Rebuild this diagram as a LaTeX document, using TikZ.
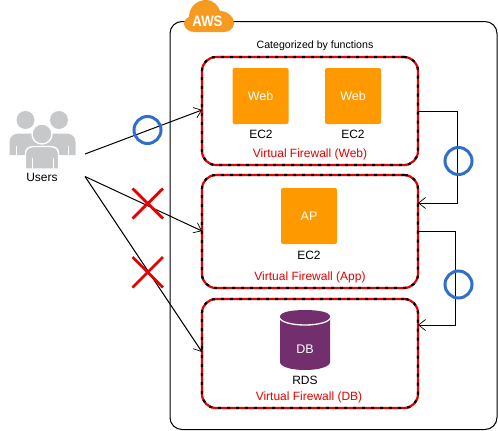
\documentclass[tikz,border=0pt]{standalone}
\usepackage{fontspec}
\setmainfont{Liberation Sans}
\usetikzlibrary{arrows.meta,calc}
\definecolor{awsorange}{HTML}{FF9900}
\definecolor{cloudorange}{HTML}{F79A20}
\definecolor{dbpurple}{HTML}{732E6E}
\definecolor{fwred}{HTML}{E60000}
\definecolor{okblue}{HTML}{2F6FCB}
\definecolor{usergray}{HTML}{C7C8CA}
\tikzset{
  x=1pt,y=-1pt,
  every node/.style={font=\fontsize{12}{14}\selectfont,inner sep=0pt,outer sep=0pt},
  fwbox/.style={minimum width=216pt,rounded corners=14pt,draw=fwred,line width=2.2pt,
    postaction={draw=black,line width=2.2pt,dash pattern=on 3pt off 6pt}},
  ec2box/.style={fill=awsorange,draw=none,rounded corners=2pt,minimum width=56pt,minimum height=56pt,
    text=white,font=\fontsize{12.5}{14}\selectfont},
  fwlabel/.style={text=fwred},
  conn/.style={draw=black,line width=1pt,-{Straight Barb[length=7pt,width=11pt,line width=0.7pt]}},
  okmark/.style={draw=okblue,line width=3pt,fill=none},
  nomark/.style={draw=fwred,line width=2.8pt},
  slit/.style={draw=white,line width=0.8pt},
}
\begin{document}
\begin{tikzpicture}
\useasboundingbox (0,0) rectangle (498,431);
\fill[white] (0,0) rectangle (498,431);
% AWS outer frame
\draw[line width=1pt,rounded corners=12pt] (170,21.5) rectangle (497,429.5);
% cloud
\fill[cloudorange] (195,32) .. controls (184,32) and (180,21) .. (189,17)
  .. controls (189,7) and (197,0) .. (206,0)
  .. controls (213,0) and (218,5) .. (220,11)
  .. controls (228,11) and (235,18) .. (234,24)
  .. controls (233,29) and (229,32) .. (224,32) -- cycle;
\node[text=white,font=\bfseries\fontsize{15}{17}\selectfont,xscale=0.88] (awslabel) at (207.5,21) {AWS};
\node[font=\fontsize{10.6}{12}\selectfont] (title) at (315,45.5) {Categorized by functions};
% firewall boxes
\node[fwbox,minimum height=108pt] (web) at (310,111) {};
\node[fwbox,minimum height=113pt] (app) at (310,231.5) {};
\node[fwbox,minimum height=109pt] (db) at (310,353.5) {};
% ec2
\node[ec2box] (web1) at (260.5,96) {Web};
\node[ec2box] (web2) at (353,96) {Web};
\node[ec2box] (ap) at (309,216) {AP};
\node (ec1) at (261,134) {EC2};
\node (ec2) at (353,134) {EC2};
\node (ec3) at (309,255) {EC2};
\node[fwlabel] (fw1) at (310,154.5) {Virtual Firewall (Web)};
\node[fwlabel] (fw2) at (310,277) {Virtual Firewall (App)};
\node[fwlabel] (fw3) at (309,397) {Virtual Firewall (DB)};
% database
\fill[dbpurple] (280,316) -- (280,362) .. controls (280,367) and (292,370) .. (305,370)
  .. controls (318,370) and (330,367) .. (330,362) -- (330,316) -- cycle;
\draw[white,line width=1.3pt,fill=dbpurple] (279.5,317) .. controls (279.5,312) and (292,310) .. (305,310)
  .. controls (318,310) and (330.5,312) .. (330.5,317)
  .. controls (330.5,322) and (318,325) .. (305,325)
  .. controls (292,325) and (279.5,322) .. (279.5,317) -- cycle;
\fill[dbpurple] (280,316.5) .. controls (280,312) and (292,310) .. (305,310)
  .. controls (318,310) and (330,312) .. (330,316.5)
  .. controls (330,320) and (318,323) .. (305,323)
  .. controls (292,323) and (280,320) .. (280,316.5) -- cycle;
\node[text=white,font=\fontsize{12.5}{14}\selectfont] (dblabel) at (305,349) {DB};
\node (rds) at (305,380) {RDS};
% users icon
\fill[usergray] (25.5,120) circle (9);
\fill[usergray] (59,120) circle (9);
\fill[usergray] (9.5,155) -- (9.5,142) .. controls (9.5,136) and (14,133.5) .. (20,133.5)
  -- (65,133.5) .. controls (71,133.5) and (75.5,136) .. (75.5,142) -- (75.5,155) -- cycle;
\draw[slit] (16.5,146) -- (16.5,155.5);
\draw[slit] (68.5,146) -- (68.5,155.5);
\fill[usergray,draw=white,line width=1.4pt] (42,134) circle (10);
\fill[white] (23,155) rectangle (62,160);
\fill[usergray,draw=white,line width=1.4pt] (25.5,169) -- (25.5,153) .. controls (25.5,149) and (29,146.5) .. (34,146.5)
  -- (50,146.5) .. controls (55,146.5) and (58.5,149) .. (58.5,153) -- (58.5,169) -- cycle;
\draw[slit] (32,158) -- (32,169);
\draw[slit] (53,158) -- (53,169);
\node (users) at (42,177.5) {Users};
% connectors
\coordinate (u1) at (85,154);
\coordinate (u2) at (85,176.5);
\coordinate (webin) at (web.west |- 0,110);
\coordinate (appin) at (app.west |- 0,231);
\coordinate (dbin) at (db.west |- 0,352);
\draw[conn] (u1) -- (webin);
\draw[conn] (u2) -- (appin);
\draw[conn] (u2) -- (dbin);
\draw[conn] (web.east |- 0,111.5) -- (457.5,111.5) -- (457.5,203) -- (app.east |- 0,203);
\draw[conn] (app.east |- 0,231.5) -- (455.5,231.5) -- (455.5,325) -- (db.east |- 0,325);
% marks
\draw[okmark] (147.5,130) circle (13.5);
\draw[okmark] (458.5,161) circle (13.5);
\draw[okmark] (458.5,284.5) circle (13.5);
\draw[nomark] (132.5,188.5) -- (163,218.5) (163,188.5) -- (132.5,218.5);
\draw[nomark] (132.5,257) -- (163,287.5) (163,257) -- (132.5,287.5);
\end{tikzpicture}
\end{document}
